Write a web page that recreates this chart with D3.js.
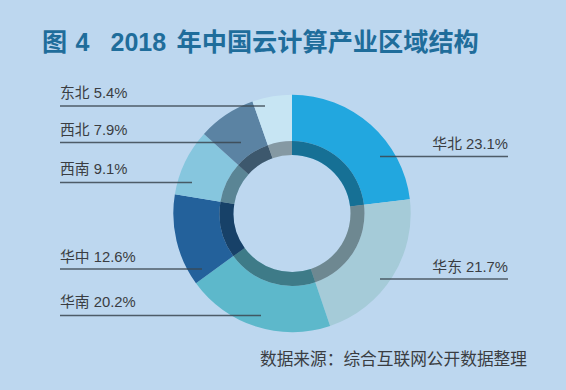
<!DOCTYPE html>
<html><head><meta charset="utf-8">
<script src="https://cdn.jsdelivr.net/npm/d3@7"></script>
<style>
html,body{margin:0;padding:0;background:#bdd7ef;}
svg{display:block;}
</style></head>
<body><svg id="c" width="566" height="390"></svg>
<script>
const regions = ["华北","华东","华南","华中","西南","西北","东北"];
const shares = [23.1,21.7,20.2,12.6,9.1,7.9,5.4];
const colors = ["#22a7df","#a5cbd8","#5db8cb","#23619b","#86c6de","#5b83a3","#c7e5f3"];
const titleParts = ["图","4","2018","年中国云计算产业区域结构"];
const sourceText = "数据来源：综合互联网公开数据整理";

const svg = d3.select("#c");
svg.append("rect").attr("width",566).attr("height",390).attr("fill","#bdd7ef");

const title = svg.append("text").attr("y",51)
  .attr("font-family","'Noto Sans CJK SC', sans-serif").attr("font-weight",700)
  .attr("font-size",25.2).attr("fill","#1f6d9b");
const titleX = [42,75.5,110.5,176.5];
titleParts.forEach((t,i)=>{
  const num = i===1||i===2;
  title.append("tspan").attr("x",titleX[i])
    .attr("font-family", num ? "'Liberation Sans',sans-serif" : null)
    .attr("font-size", num ? 25 : null)
    .text(t);
});

const cx = 292, cy = 213.5;
const g = svg.append("g").attr("transform",`translate(${cx},${cy})`);
const data = regions.map((r,i)=>({name:r,value:shares[i],color:colors[i]}));
const pie = d3.pie().value(d=>d.value).sort(null);
const arcs = pie(data);
const outer = d3.arc().innerRadius(72.5).outerRadius(118.7);
const inner = d3.arc().innerRadius(58.5).outerRadius(72.5);
g.selectAll("path.o").data(arcs).join("path").attr("class","o")
  .attr("d",outer).attr("fill",d=>d.data.color);
g.selectAll("path.i").data(arcs).join("path").attr("class","i")
  .attr("d",inner).attr("fill",d=>d.data.color);
g.selectAll("path.s").data(arcs).join("path").attr("class","s")
  .attr("d",inner).attr("fill","#000").attr("opacity",0.33);

const labelPos = {
  "东北":{side:"L",ty:98,ly:106,x1:60,x2:265},
  "西北":{side:"L",ty:135,ly:142.5,x1:60,x2:241},
  "西南":{side:"L",ty:174,ly:182.5,x1:60,x2:192},
  "华中":{side:"L",ty:262,ly:269,x1:60,x2:202},
  "华南":{side:"L",ty:307,ly:315.5,x1:60,x2:261},
  "华北":{side:"R",ty:149,ly:156.5,x1:380,x2:508},
  "华东":{side:"R",ty:271.5,ly:279,x1:380,x2:508}
};
const lg = svg.append("g");
data.forEach(d=>{
  const p = labelPos[d.name];
  lg.append("line").attr("x1",p.x1).attr("x2",p.x2).attr("y1",p.ly).attr("y2",p.ly)
    .attr("stroke","#3b4650").attr("stroke-width",1.6).attr("stroke-opacity",0.85);
  lg.append("text").attr("x",p.side==="L"?p.x1:p.x2).attr("y",p.ty)
    .attr("text-anchor",p.side==="L"?"start":"end")
    .attr("font-family","'Liberation Sans','Noto Sans CJK SC',sans-serif")
    .attr("font-size",14.8).attr("fill","#3a3d42")
    .text(d.name+" "+d.value.toFixed(1)+"%");
});

svg.append("text").attr("x",260).attr("y",365)
  .attr("font-family","'Noto Sans CJK SC',sans-serif").attr("font-size",16.7)
  .attr("fill","#3a3d42").text(sourceText);
</script></body></html>
